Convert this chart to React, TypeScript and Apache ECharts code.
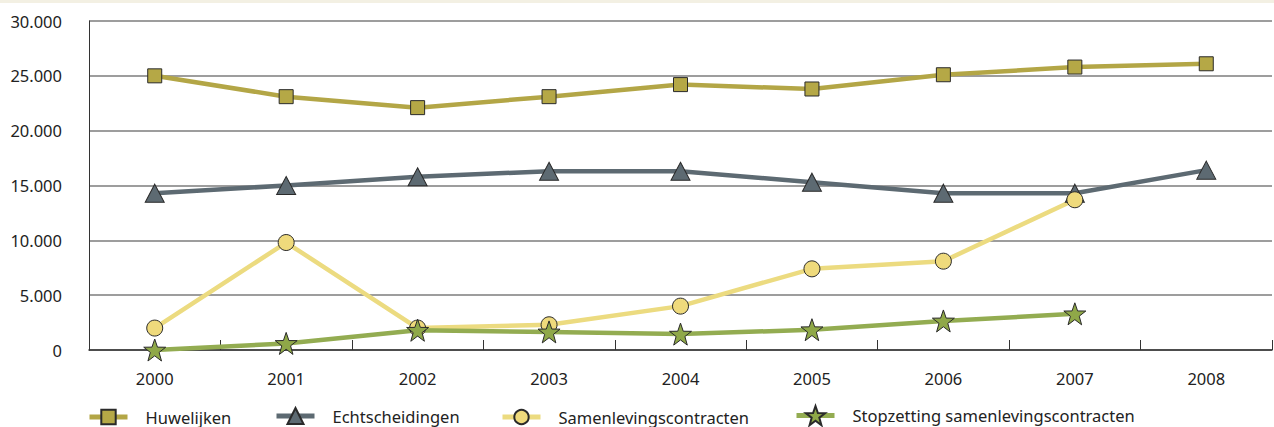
import React, { useEffect, useRef } from "react";
import * as echarts from "echarts";

const years = ["2000", "2001", "2002", "2003", "2004", "2005", "2006", "2007", "2008"];
const huwelijken = [25000, 23100, 22100, 23100, 24200, 23800, 25100, 25800, 26100];
const echtscheidingen = [14300, 15000, 15800, 16300, 16300, 15300, 14300, 14300, 16400];
const samenleving = [2000, 9800, 2000, 2300, 4000, 7400, 8100, 13700, null];
const stopzetting = [0, 600, 1800, 1650, 1450, 1850, 2650, 3300, null];
const seriesNames = ["Huwelijken", "Echtscheidingen", "Samenlevingscontracten", "Stopzetting samenlevingscontracten"];

const FONT = "Noto Sans";
const STAR = "path://M12,0 L15,8.5 L24,8.6 L16.8,14 L19.4,23 L12,17.6 L4.6,23 L7.2,14 L0,8.6 L9,8.5 Z";

export default function App() {
  const ref = useRef<HTMLDivElement>(null);
  useEffect(() => {
    if (!ref.current) return;
    const chart = echarts.init(ref.current, null, { renderer: "svg" });
    const mk = (name: string, data: any[], color: string, fill: string, symbol: string, size: number | number[], lw: number) => ({
      name,
      type: "line",
      data,
      symbol,
      symbolSize: size,
      showSymbol: true,
      lineStyle: { color, width: lw },
      itemStyle: { color: fill, borderColor: "#2a2a2a", borderWidth: 1 },
      connectNulls: false,
      emphasis: { disabled: true },
    });
    const legendLefts = [87, 274, 500, 794];
    const legendHeights = [18, 20, 18, 24];
    chart.setOption({
      animation: false,
      backgroundColor: "#ffffff",
      textStyle: { fontFamily: FONT },
      grid: { left: 89, right: 2, top: 21, bottom: 77, containLabel: false },
      graphic: [
        { type: "rect", shape: { x: 0, y: 0, width: 1274, height: 3 }, style: { fill: "#f3f0e3" } },
      ],
      legend: seriesNames.map((n, i) => ({
        data: [n],
        left: legendLefts[i],
        top: 417 - legendHeights[i] / 2,
        padding: 0,
        itemWidth: 38,
        itemHeight: legendHeights[i],
        lineStyle: { width: 5 },
        textStyle: { fontFamily: FONT, fontSize: 16.5, lineHeight: 18, color: "#222", padding: [0, 0, 0, 13] },
      })),
      xAxis: {
        type: "category",
        data: years,
        boundaryGap: true,
        axisLine: { show: true, lineStyle: { color: "#333", width: 1.5 } },
        axisTick: { show: true, inside: true, length: 10, lineStyle: { color: "#333", width: 1 } },
        axisLabel: { fontFamily: FONT, fontSize: 16.5, color: "#222", margin: 20 },
        splitLine: { show: false },
      },
      yAxis: {
        type: "value",
        min: 0,
        max: 30000,
        interval: 5000,
        axisLine: { show: true, lineStyle: { color: "#333", width: 1 } },
        axisTick: { show: false },
        axisLabel: {
          fontFamily: FONT,
          fontSize: 16.5,
          color: "#222",
          margin: 27,
          formatter: (v: number) => (v === 0 ? "0" : v.toLocaleString("de-DE")),
        },
        splitLine: { show: true, lineStyle: { color: "#7d7d7d", width: 1.5 } },
      },
      series: [
        mk(seriesNames[0], huwelijken, "#b3a646", "#b5a846", "rect", 14, 4.5),
        mk(seriesNames[1], echtscheidingen, "#5d6a72", "#5d6a72", "triangle", [19, 18], 4.5),
        mk(seriesNames[2], samenleving, "#ecdb80", "#efda7c", "circle", 16, 4.5),
        mk(seriesNames[3], stopzetting, "#93ac51", "#8fa848", STAR, 22, 4.5),
      ],
    });
    return () => chart.dispose();
  }, []);
  return <div ref={ref} style={{ position: "fixed", left: 0, top: 0, width: 1274, height: 427 }} />;
}
